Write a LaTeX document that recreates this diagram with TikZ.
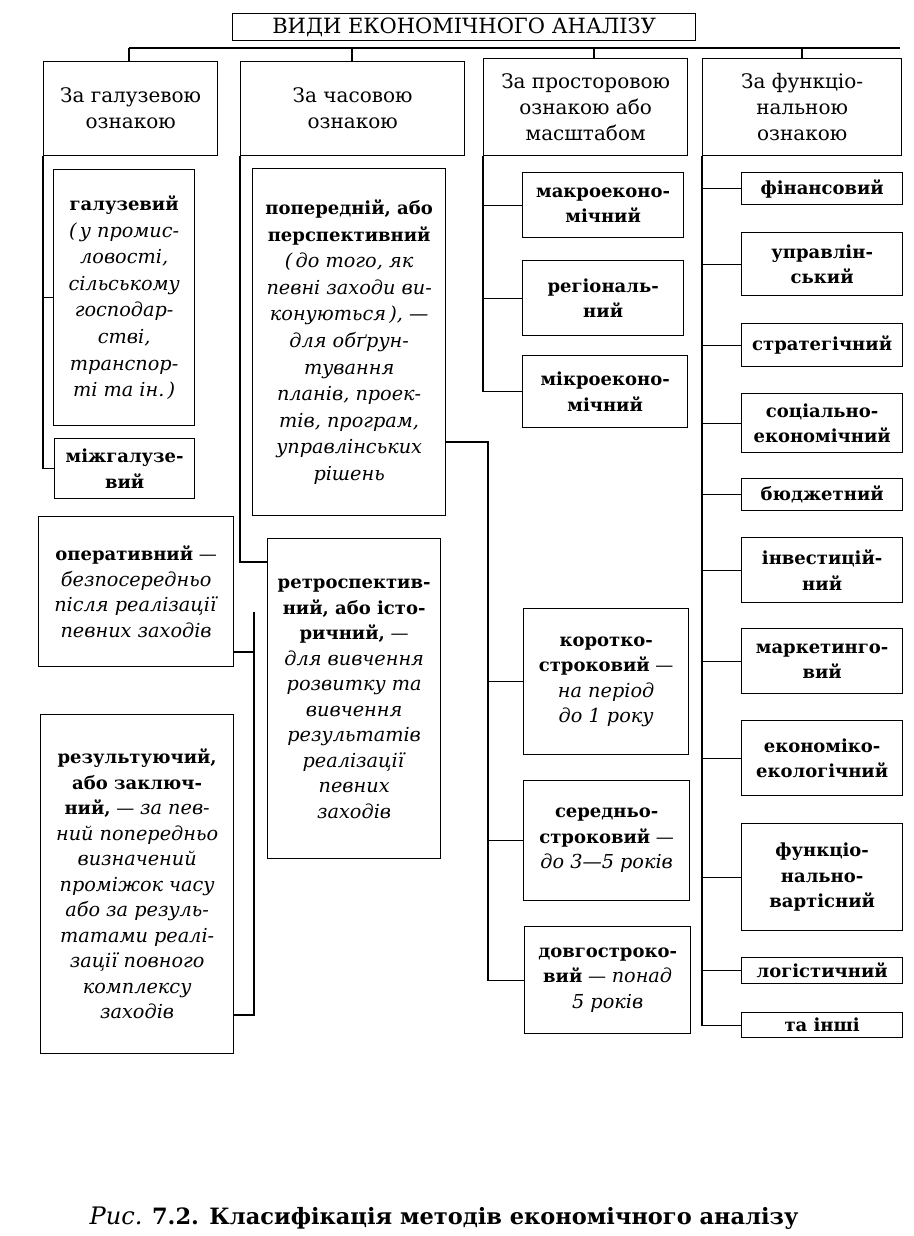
\documentclass[tikz,border=0pt]{standalone}
\usepackage{fontspec}
\setmainfont{DejaVu Serif}[ItalicFeatures={Scale=1.07}]
\usetikzlibrary{calc}
\newcommand\hdrfont{\fontsize{20}{26}\selectfont}
\newcommand\bodyfont{\fontsize{18}{25.5}\selectfont}
\newcommand\wideline{\fontsize{18}{26.6}\selectfont}
\newcommand\titlefont{\fontsize{21}{24}\selectfont}
\newcommand\capfont{\fontsize{22.5}{26}\selectfont}
\newcommand\bx[7][]{\node[box,#1,minimum width={#5-#3},minimum height={#6-#4}] (#2) at (#3,#4) {#7};}
\begin{document}
\begin{tikzpicture}[x=1pt,y=-1pt,
  box/.style={draw,line width=1.3pt,inner sep=0pt,align=center,anchor=north west,font=\bodyfont},
  hdr/.style={font=\hdrfont},
  conn/.style={line width=1.1pt}]
\useasboundingbox (0,0) rectangle (913,1236);
% title
\bx[font=\titlefont]{title}{232}{13}{695}{40}{ВИДИ ЕКОНОМІЧНОГО АНАЛІЗУ}
% headers
\bx[hdr]{h1}{43}{61}{217}{155}{За галузевою\\ознакою}
\bx[hdr]{h2}{240}{61}{464}{155}{За часовою\\ознакою}
\bx[hdr]{h3}{483}{58}{687}{155}{За просторовою\\ознакою або\\масштабом}
\bx[hdr]{h4}{702}{58}{901}{155}{За функціо-\\нальною\\ознакою}
% column 1
\bx[font=\wideline]{g1}{53}{169}{194}{425}{\textbf{галузевий}\\\textit{(\,у промис-}\\\textit{ловості,}\\\textit{сільському}\\\textit{господар-}\\\textit{стві,}\\\textit{транспор-}\\\textit{ті та ін.\,)}}
\bx{g2}{54}{438}{194}{498}{\textbf{міжгалузе-}\\\textbf{вий}}
% column 2
\bx[font=\wideline]{pop}{252}{168}{445}{515}{\textbf{попередній, або}\\\textbf{перспективний}\\\textit{(\,до того, як}\\\textit{певні заходи ви-}\\\textit{конуються\,), —}\\\textit{для обґрун-}\\\textit{тування}\\\textit{планів, проек-}\\\textit{тів, програм,}\\\textit{управлінських}\\\textit{рішень}}
\bx{oper}{38}{516}{233}{666}{\textbf{оперативний} —\\\textit{безпосередньо}\\\textit{після реалізації}\\\textit{певних заходів}}
\bx{retro}{267}{538}{440}{858}{\textbf{ретроспектив-}\\\textbf{ний, або істо-}\\\textbf{ричний,} —\\\textit{для вивчення}\\\textit{розвитку та}\\\textit{вивчення}\\\textit{результатів}\\\textit{реалізації}\\\textit{певних}\\\textit{заходів}}
\bx{res}{40}{714}{233}{1053}{\textbf{результуючий,}\\\textbf{або заключ-}\\\textbf{ний,} — \textit{за пев-}\\\textit{ний попередньо}\\\textit{визначений}\\\textit{проміжок часу}\\\textit{або за резуль-}\\\textit{татами реалі-}\\\textit{зації повного}\\\textit{комплексу}\\\textit{заходів}}
% column 3
\bx{macro}{522}{172}{683}{237}{\textbf{макроеконо-}\\\textbf{мічний}}
\bx{reg}{522}{260}{683}{335}{\textbf{регіональ-}\\\textbf{ний}}
\bx{micro}{522}{355}{687}{427}{\textbf{мікроеконо-}\\\textbf{мічний}}
\bx{short}{523}{608}{688}{754}{\textbf{коротко-}\\\textbf{строковий} —\\\textit{на період}\\\textit{до 1 року}}
\bx{mid}{523}{780}{689}{900}{\textbf{середньо-}\\\textbf{строковий} —\\\textit{до 3—5 років}}
\bx{long}{524}{926}{690}{1033}{\textbf{довгостроко-}\\\textbf{вий} — \textit{понад}\\\textit{5 років}}
% column 4
\bx{fin}{741}{172}{902}{204}{\textbf{фінансовий}}
\bx{upr}{741}{232}{902}{295}{\textbf{управлін-}\\\textbf{ський}}
\bx{str}{741}{323}{902}{366}{\textbf{стратегічний}}
\bx{soc}{741}{393}{902}{452}{\textbf{соціально-}\\\textbf{економічний}}
\bx{bud}{741}{478}{902}{510}{\textbf{бюджетний}}
\bx{inv}{741}{537}{902}{602}{\textbf{інвестицій-}\\\textbf{ний}}
\bx{mar}{741}{628}{902}{693}{\textbf{маркетинго-}\\\textbf{вий}}
\bx{eco}{741}{720}{902}{795}{\textbf{економіко-}\\\textbf{екологічний}}
\bx{fun}{741}{823}{902}{930}{\textbf{функціо-}\\\textbf{нально-}\\\textbf{вартісний}}
\bx{log}{741}{957}{902}{983}{\textbf{логістичний}}
\bx{oth}{741}{1012}{902}{1037}{\textbf{та інші}}
% caption
\node[font=\capfont] (cap) at (444,1218) {\textit{Рис.} \textbf{7.2. Класифікація методів економічного аналізу}};
% connectors: top bar
\coordinate (bL) at (129,48);
\coordinate (bR) at (900,48);
\coordinate (b2) at (352,48);
\coordinate (b3) at (594,48);
\coordinate (b4) at (802,48);
\draw[conn] (bL) -- (bR);
\draw[conn] (bL) -- (bL |- h1.north);
\draw[conn] (b2) -- (b2 |- h2.north);
\draw[conn] (b3) -- (b3 |- h3.north);
\draw[conn] (b4) -- (b4 |- h4.north);
% column 1
\draw[conn] (h1.south west) |- (g2.west);
\draw[conn] (g1.west) -- (g1.west -| h1.south west);
% column 2
\coordinate (rj) at ($(retro.north west)+(0,24)$);
\draw[conn] (h2.south west) |- (rj);
\coordinate (j2t) at (254,612);
\coordinate (j2a) at (254,652);
\coordinate (j2b) at (254,1015);
\draw[conn] (j2t) -- (j2b) -- (res.east |- j2b);
\draw[conn] (j2a) -- (oper.east |- j2a);
\coordinate (j3) at (488,442);
\draw[conn] (pop.east |- j3) -- (j3) |- (long.west);
\draw[conn] (short.west) -- (short.west -| j3);
\draw[conn] (mid.west) -- (mid.west -| j3);
% column 3
\draw[conn] (h3.south west) |- (micro.west);
\draw[conn] (macro.west) -- (macro.west -| h3.south west);
\draw[conn] (reg.west) -- (reg.west -| h3.south west);
% column 4
\draw[conn] (h4.south west) |- (oth.west);
\foreach \n in {fin,upr,str,soc,bud,inv,mar,eco,fun,log}
  \draw[conn] (\n.west) -- (\n.west -| h4.south west);
\end{tikzpicture}
\end{document}
